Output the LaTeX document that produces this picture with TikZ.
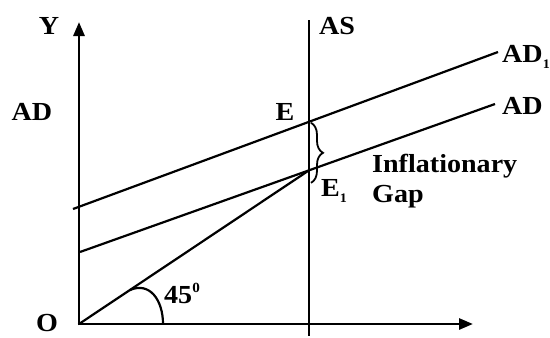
\documentclass[tikz,border=0pt]{standalone}
\usepackage{fontspec}
\setmainfont{Liberation Serif}[FakeStretch=1.08]
\usetikzlibrary{arrows.meta,calc,decorations.pathreplacing}
\newcommand{\smallsub}[1]{\raisebox{-0.25em}{\fontsize{13}{13}\selectfont #1}}
\newcommand{\smallsup}[1]{\raisebox{0.42em}{\fontsize{14}{14}\selectfont #1}}
\begin{document}
\begin{tikzpicture}[x=1pt,y=-1pt,
  axis/.style={line width=2.8pt,-{Triangle[width=11pt,length=14pt]}},
  curve/.style={line width=2.2pt},
  lbl/.style={inner sep=0pt,font=\fontsize{26}{30}\selectfont\bfseries}]
\useasboundingbox (0,0) rectangle (550,338);
\coordinate (O) at (79,324);
\coordinate (Ytip) at (79,22);
\coordinate (Xtip) at (473,324);
\coordinate (AStop) at (309,20);
\coordinate (ASbot) at (309,336);
\coordinate (A1l) at (73,209);
\coordinate (A1r) at (498,52);
\coordinate (A0l) at (80,252);
\coordinate (A0r) at (495,104);
\coordinate (E) at ($(A1l)!{(309-73)/(498-73)}!(A1r)$);
\coordinate (E1) at ($(A0l)!{(309-80)/(495-80)}!(A0r)$);
\coordinate (arcA) at ($(O)!0.22!(E1)$);
\coordinate (arcB) at (163,324);
\draw[axis] ($(O)+(0,1.4)$) -- (Ytip);
\draw[axis] ($(O)+(-1.4,0)$) -- (Xtip);
\draw[curve] (AStop) -- (ASbot);
\draw[curve] (A1l) -- (A1r);
\draw[curve] (A0l) -- (A0r);
\draw[curve] (O) -- (E1);
\draw[curve] (arcA) .. controls +(20,-9) and (163,300) .. (arcB);
\draw[line width=1.8pt,decorate,decoration={brace,amplitude=12pt}] ($(E)+(2,1)$) -- ($(E)+(2,61)$);
\node[lbl] (ylab) at (49,26) {Y};
\node[lbl] (adl) at (32,112) {AD};
\node[lbl,anchor=west] (as) at (319,26) {AS};
\node[lbl,anchor=west] (ad1) at (502,57) {AD\smallsub{1}};
\node[lbl,anchor=west] (ad0) at (502,106) {AD};
\node[lbl] (elab) at (285,112) {E};
\node[lbl,anchor=west] (e1lab) at (321,191) {E\smallsub{1}};
\node[lbl,anchor=base west] (infl) at (372,172) {Inflationary};
\node[lbl,anchor=base west] (gap) at (372,202) {Gap};
\node[lbl,anchor=base west] (ang) at (164,303) {45\smallsup{0}};
\node[lbl,anchor=base] (olab) at (47,331) {O};
\end{tikzpicture}
\end{document}
